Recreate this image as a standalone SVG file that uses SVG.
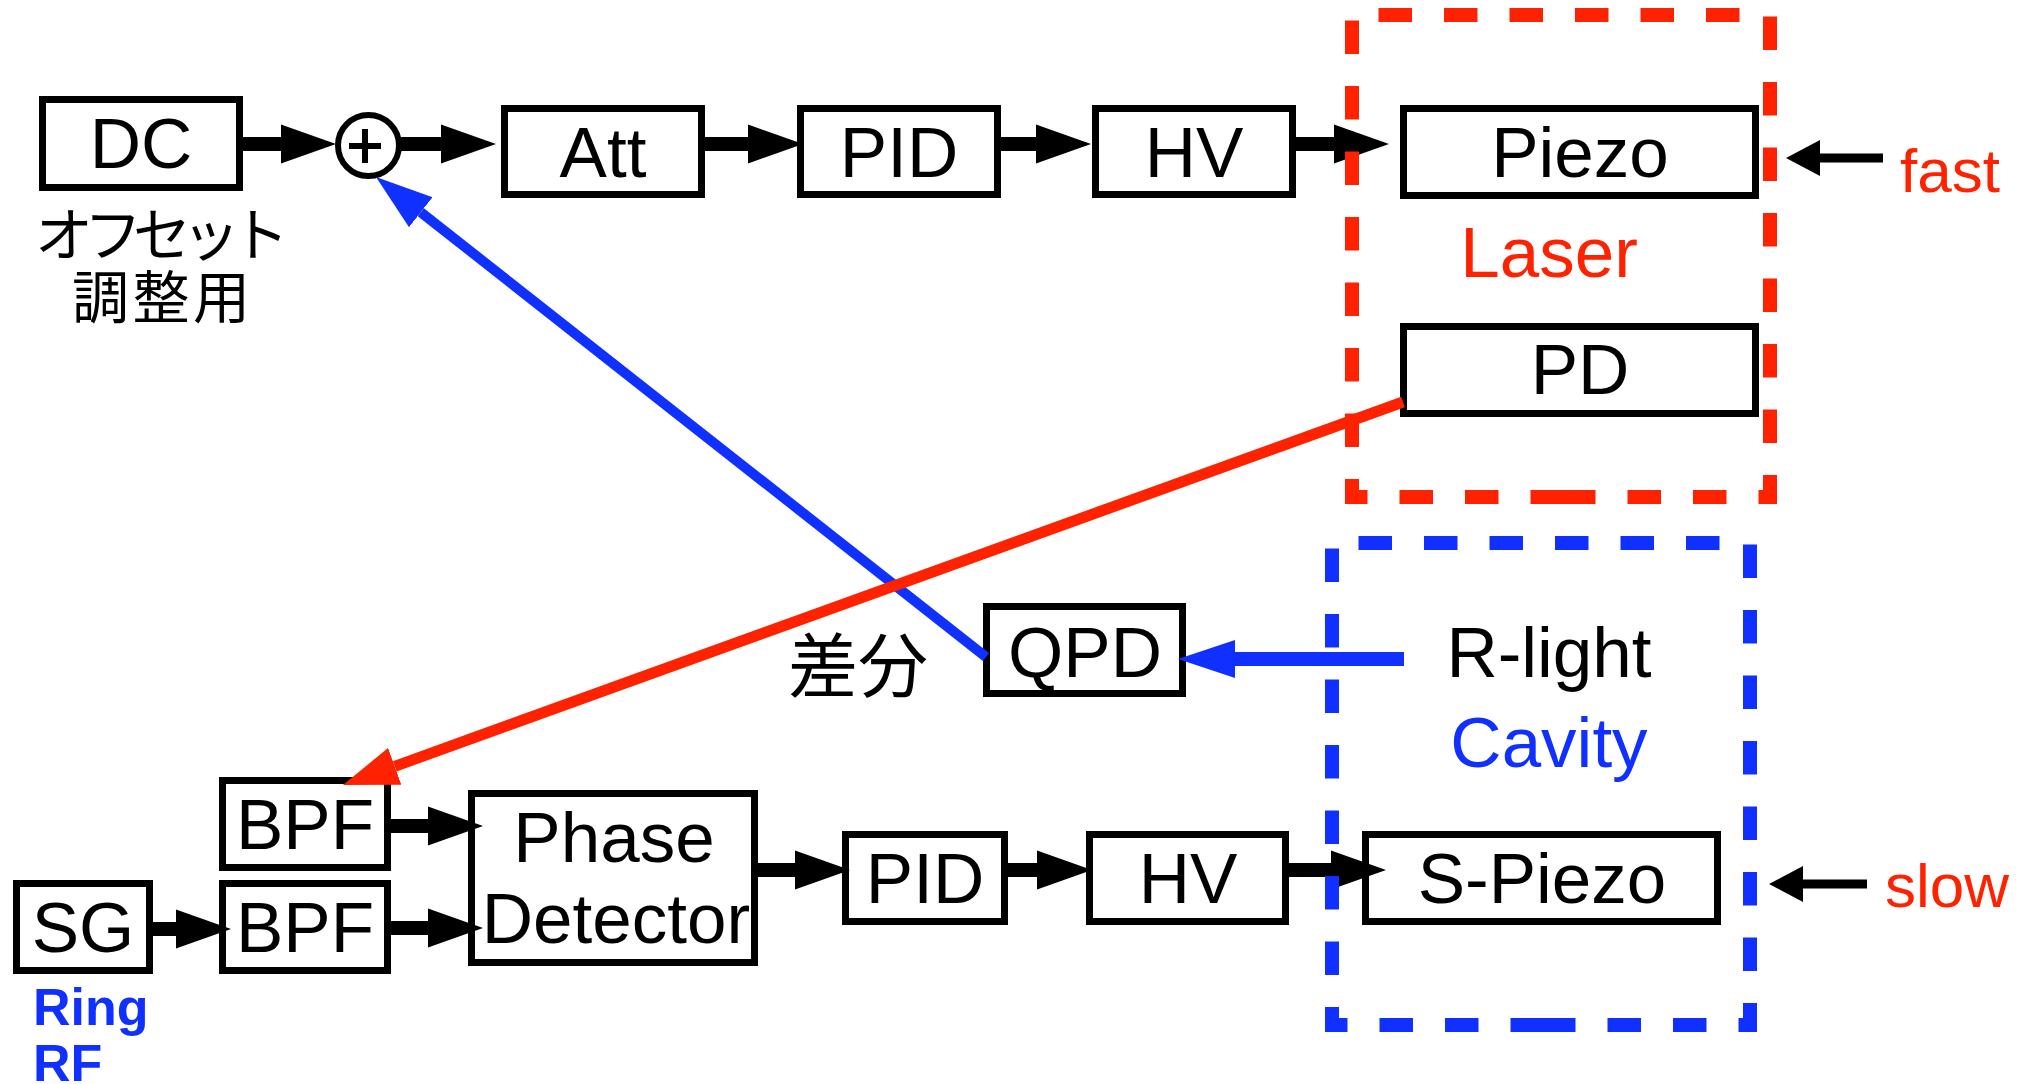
<svg xmlns="http://www.w3.org/2000/svg" width="2033" height="1084" viewBox="0 0 2033 1084">
<style>
.box{fill:#fff;stroke:#000;stroke-width:7}
.t{font-family:"Liberation Sans",Arial,sans-serif;font-size:71px;fill:#000;text-anchor:middle}
.red{fill:#ff2200}
.blue{fill:#1030ff}
.jp{font-family:"Noto Sans CJK JP",sans-serif;fill:#000}
.sh{stroke:#000;stroke-width:14;fill:none;marker-end:url(#ah)}
.dash{fill:none;stroke-width:14;stroke-dasharray:33.5 32}
</style>
<defs>
<marker id="ah" markerUnits="userSpaceOnUse" viewBox="0 -20 56 40" markerWidth="56" markerHeight="40" refX="0" refY="0" orient="auto"><path d="M0,-19.5 L55,0 L0,19.5 Z" fill="#000"/></marker>
<marker id="ahr" markerUnits="userSpaceOnUse" viewBox="0 -20 56 40" markerWidth="56" markerHeight="40" refX="0" refY="0" orient="auto"><path d="M0,-19.5 L55,0 L0,19.5 Z" fill="#ff2200"/></marker>
<marker id="ahb" markerUnits="userSpaceOnUse" viewBox="0 -20 58 40" markerWidth="58" markerHeight="40" refX="0" refY="0" orient="auto"><path d="M0,-19 L57,0 L0,19 Z" fill="#1030ff"/></marker>
<marker id="ahs" markerUnits="userSpaceOnUse" viewBox="0 -19 35 38" markerWidth="35" markerHeight="38" refX="0" refY="0" orient="auto"><path d="M0,-18 L34,0 L0,18 Z" fill="#000"/></marker>
</defs>
<rect width="2033" height="1084" fill="#fff"/>

<g id="nodes">
<g id="dc"><rect class="box" x="42.5" y="99.5" width="197" height="88"/><text class="t" x="141" y="168">DC</text></g>
<g id="offset-label"><text class="jp" x="162" y="256" font-size="58" text-anchor="middle" textLength="254" lengthAdjust="spacing">オフセット</text><text class="jp" x="161" y="318" font-size="57" text-anchor="middle" textLength="178" lengthAdjust="spacing">調整用</text></g>
<g id="sum"><circle cx="368.5" cy="145.5" r="30.5" fill="#fff" stroke="#000" stroke-width="6"/><path d="M349,146 H381 M365,129 V163" stroke="#000" stroke-width="6"/></g>
<g id="att"><rect class="box" x="504.5" y="108.5" width="197" height="86"/><text class="t" x="603" y="177">Att</text></g>
<g id="pid1"><rect class="box" x="800.5" y="108.5" width="197" height="86"/><text class="t" x="899" y="177">PID</text></g>
<g id="hv1"><rect class="box" x="1095.5" y="108.5" width="197" height="86"/><text class="t" x="1194" y="177">HV</text></g>
<g id="piezo"><rect class="box" x="1403.5" y="108.5" width="352" height="87"/><text class="t" x="1580" y="177">Piezo</text></g>
<g id="pd"><rect class="box" x="1403.5" y="326.5" width="352" height="87"/><text class="t" x="1580" y="394">PD</text></g>
<g id="qpd"><rect class="box" x="986.5" y="606.5" width="196" height="87"/><text class="t" x="1085" y="677">QPD</text></g>
<g id="diff-label"><text class="jp" x="788" y="692" font-size="70">差分</text></g>
<g id="rlight"><text class="t" x="1549" y="677">R-light</text></g>
<g id="bpf1"><rect class="box" x="222.5" y="780.5" width="165" height="87"/><text class="t" x="305" y="849">BPF</text></g>
<g id="bpf2"><rect class="box" x="222.5" y="883.5" width="165" height="87"/><text class="t" x="305" y="952">BPF</text></g>
<g id="sg"><rect class="box" x="16.5" y="883.5" width="133" height="87"/><text class="t" x="83" y="952">SG</text></g>
<g id="ringrf"><text x="33" y="1025" font-family="Liberation Sans,Arial,sans-serif" font-weight="bold" font-size="52" class="blue">Ring</text><text x="33" y="1081" font-family="Liberation Sans,Arial,sans-serif" font-weight="bold" font-size="52" class="blue">RF</text></g>
<g id="phase"><rect class="box" x="471.5" y="793.5" width="283" height="169"/><text class="t" x="614" y="862">Phase</text><text class="t" x="616" y="943">Detector</text></g>
<g id="pid2"><rect class="box" x="845.5" y="834.5" width="159" height="87"/><text class="t" x="925" y="903">PID</text></g>
<g id="hv2"><rect class="box" x="1089.5" y="834.5" width="196" height="87"/><text class="t" x="1188" y="903">HV</text></g>
<g id="spiezo"><rect class="box" x="1365.5" y="834.5" width="352" height="87"/><text class="t" x="1542" y="903">S-Piezo</text></g>
<g id="fast"><text x="1900" y="192" font-family="Liberation Sans,Arial,sans-serif" font-size="62" class="red">fast</text></g>
<g id="slow"><text x="1885" y="907" font-family="Liberation Sans,Arial,sans-serif" font-size="62" class="red">slow</text></g>
</g>

<g id="connectors">
<line class="sh" x1="240" y1="144" x2="281" y2="144"/>
<line class="sh" x1="399" y1="144" x2="441" y2="144"/>
<line class="sh" x1="701" y1="144" x2="748" y2="144"/>
<line class="sh" x1="997" y1="144" x2="1036" y2="144"/>
<line class="sh" x1="1292" y1="144" x2="1334" y2="144"/>
<line class="sh" x1="150" y1="929" x2="176" y2="929"/>
<line class="sh" x1="388" y1="826" x2="428" y2="826"/>
<line class="sh" x1="388" y1="928" x2="428" y2="928"/>
<line class="sh" x1="755" y1="870" x2="795" y2="870"/>
<line class="sh" x1="1005" y1="870" x2="1037" y2="870"/>
<line class="sh" x1="1286" y1="870" x2="1331" y2="870"/>
<line x1="1883" y1="158" x2="1820" y2="158" stroke="#000" stroke-width="9" marker-end="url(#ahs)"/>
<line x1="1867" y1="884" x2="1803" y2="884" stroke="#000" stroke-width="9" marker-end="url(#ahs)"/>
<line x1="1404" y1="659" x2="1235" y2="659" stroke="#1030ff" stroke-width="14" marker-end="url(#ahb)"/>
<line x1="986" y1="657" x2="420.8" y2="212.2" stroke="#1030ff" stroke-width="10" marker-end="url(#ahb)"/>
<line x1="1403" y1="402" x2="394.7" y2="766.3" stroke="#ff2200" stroke-width="11" marker-end="url(#ahr)"/>
</g>

<g id="laser">
<path class="dash" stroke="#ff2200" d="M1562,497 H1770 V15 H1352 V497 Z"/>
<text class="t red" x="1549" y="277">Laser</text>
</g>
<g id="cavity">
<path class="dash" stroke="#1030ff" d="M1542,1025 H1750 V543 H1332 V1025 Z"/>
<text class="t blue" x="1549" y="767">Cavity</text>
</g>
</svg>
